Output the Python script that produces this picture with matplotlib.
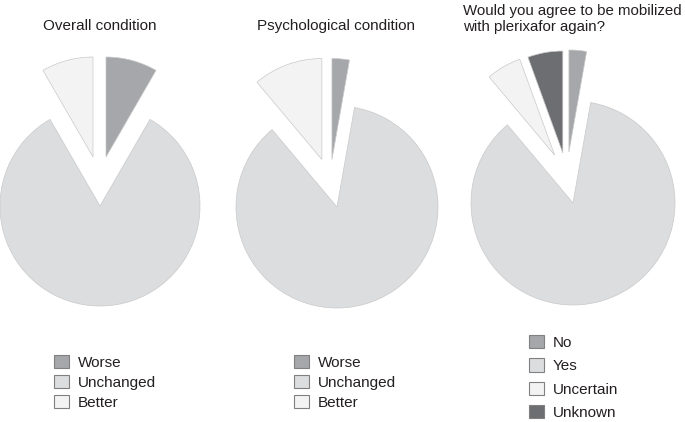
import matplotlib
matplotlib.use("Agg")
import matplotlib.pyplot as plt
from matplotlib.patches import Patch

plt.rcParams['font.family'] = ['Liberation Sans', 'DejaVu Sans']

# patient counts (n = 36)
titles = ["Overall condition",
          "Psychological condition",
          "Would you agree to be mobilized\nwith plerixafor again?"]
labels_cond = ["Worse", "Unchanged", "Better"]
labels_again = ["No", "Yes", "Uncertain", "Unknown"]
overall = [3, 30, 3]
psycho = [1, 31, 4]
again = [1, 31, 2, 2]

c_worse = "#a6a7aa"
c_same = "#dcdddf"
c_better = "#f3f3f3"
c_unknown = "#6d6e71"
cond_colors = [c_worse, c_same, c_better]
again_colors = [c_worse, c_same, c_better, c_unknown]

W, H = 685, 422
fig = plt.figure(figsize=(W / 100, H / 100), dpi=100)

# (center x, center y from top, radius) in pixels, and the pulled-out shift of each slice
pies = [
    (overall, cond_colors, labels_cond, (100, 206, 100), [(0.06, 0.49), (0, 0), (-0.07, 0.49)]),
    (psycho, cond_colors, labels_cond, (337, 207, 101), [(-0.05, 0.47), (0, 0), (-0.15, 0.47)]),
    (again, again_colors, labels_again, (573, 203, 102), [(-0.04, 0.50), (0, 0), (-0.18, 0.47), (-0.10, 0.49)]),
]

xl, xr, yb, yt = -1.3, 1.3, -1.1, 1.6
for vals, cols, labs, (cx, cy, r), shifts in pies:
    left = (cx + xl * r) / W
    bottom = (H - cy + yb * r) / H
    ax = fig.add_axes([left, bottom, (xr - xl) * r / W, (yt - yb) * r / H])
    wedges, _ = ax.pie(vals, colors=cols, startangle=90, counterclock=False,
                       wedgeprops=dict(edgecolor="#c9c9c9", linewidth=0.5))
    for w, s in zip(wedges, shifts):
        w.set_center(s)
    ax.set_xlim(xl, xr)
    ax.set_ylim(yb, yt)
    ax.set_aspect("auto")
    ax.axis("off")

# titles
fig.text(43 / W, 1 - 30 / H, titles[0], fontsize=11, color="#231f20", va="baseline")
fig.text(257 / W, 1 - 30 / H, titles[1], fontsize=11, color="#231f20", va="baseline")
fig.text(463 / W, 1 - 4 / H, titles[2], fontsize=10.8, color="#231f20", va="top",
         linespacing=1.2)

# legends
def add_legend(labs, cols, x, y, spacing):
    handles = [Patch(facecolor=c, edgecolor="#808080", linewidth=0.8) for c in cols]
    fig.legend(handles, labs, loc="upper left", bbox_to_anchor=(x / W, 1 - y / H),
               frameon=False, fontsize=11, handlelength=0.95, handleheight=0.95,
               handletextpad=0.6, labelspacing=spacing, borderpad=0, borderaxespad=0,
               labelcolor="#231f20")

add_legend(labels_cond, cond_colors, 54, 355, 0.33)
add_legend(labels_cond, cond_colors, 294, 355, 0.33)
add_legend(labels_again, again_colors, 529, 335, 0.56)

fig.savefig("out.png", dpi=100)
